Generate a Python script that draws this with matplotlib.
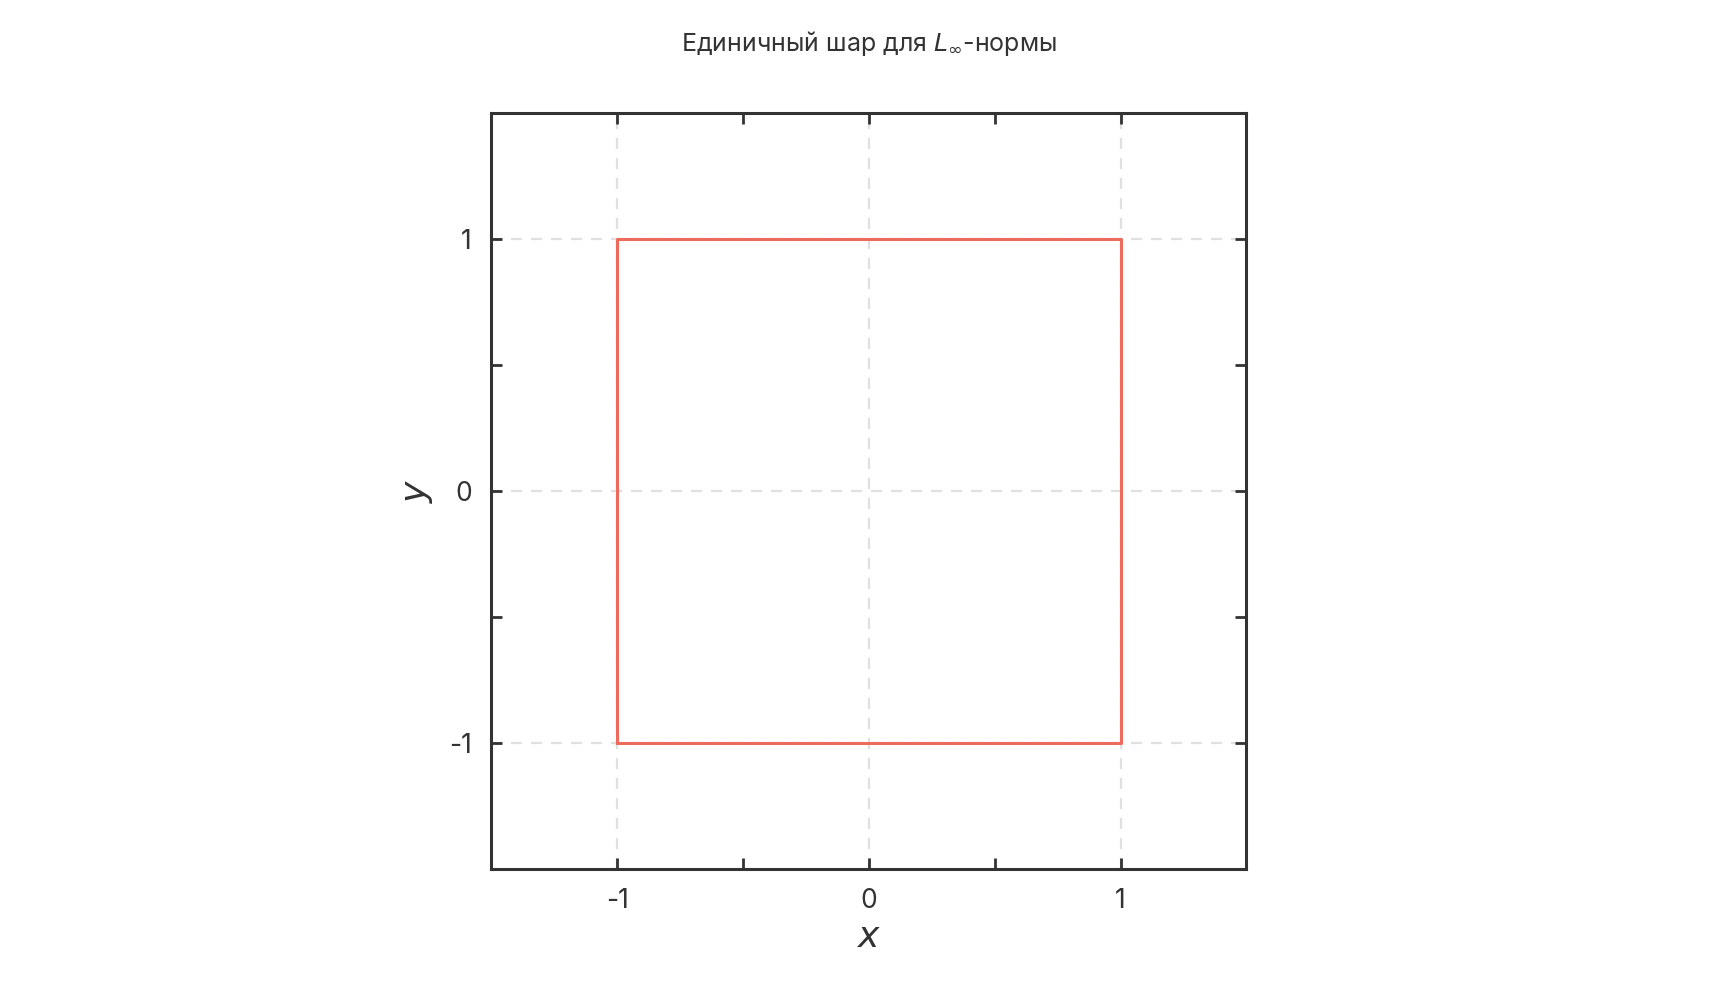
import matplotlib
matplotlib.use("Agg")
import matplotlib.pyplot as plt
from matplotlib.ticker import MultipleLocator

sq_x = [-1, 1, 1, -1, -1]
sq_y = [-1, -1, 1, 1, -1]
ticks = [-1, 0, 1]
tick_labels = ["-1", "0", "1"]

plt.rcParams['font.family'] = ['Inter', 'DejaVu Sans']
fig = plt.figure(figsize=(17.24, 10), dpi=100)
ax = fig.add_axes([0.285, 0.131, 0.438, 0.756])
ax.plot(sq_x, sq_y, color='#ee6b5b', lw=2.2, zorder=3)
ax.set_xlim(-1.5, 1.5)
ax.set_ylim(-1.5, 1.5)
ax.set_xticks(ticks)
ax.set_xticklabels(tick_labels)
ax.set_yticks(ticks)
ax.set_yticklabels(tick_labels)
ax.xaxis.set_minor_locator(MultipleLocator(0.5))
ax.yaxis.set_minor_locator(MultipleLocator(0.5))
ax.tick_params(which='both', direction='in', top=True, right=True, length=8, width=2, color='#333333',
               labelsize=19, labelcolor='#333333', pad=14)
ax.grid(True, which='major', ls=(0, (5, 4)), color='#e0e0e0', lw=1.6, zorder=0)
for s in ax.spines.values():
    s.set_linewidth(2.2)
    s.set_color('#333333')
ax.set_xlabel('$x$', fontsize=26, color='#333333', family='DejaVu Serif', labelpad=4)
ax.set_ylabel('$y$', fontsize=26, color='#333333', labelpad=10)
plt.rcParams['mathtext.fontset'] = 'dejavuserif'
ax.set_title('Единичный шар для $L_\\infty$-нормы', fontsize=18, color='#333333', pad=45)
fig.savefig('out.png', dpi=100, facecolor='white')
